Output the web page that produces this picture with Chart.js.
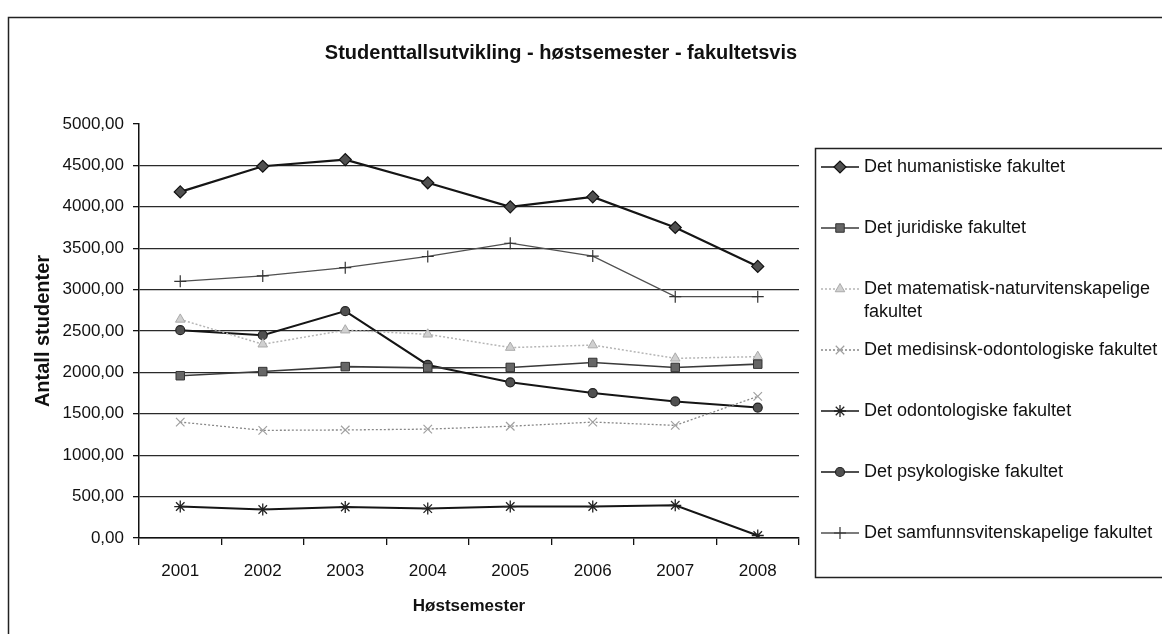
<!DOCTYPE html>
<html><head><meta charset="utf-8">
<script src="https://cdn.jsdelivr.net/npm/chart.js@4.4.0/dist/chart.umd.min.js"></script>
<style>html,body{margin:0;padding:0;background:#fff;}canvas{display:block;}</style>
</head><body>
<canvas id="c" width="1162" height="634"></canvas>
<script>
const years = ['2001', '2002', '2003', '2004', '2005', '2006', '2007', '2008'];
const humanistiske = [4180, 4490, 4570, 4290, 4000, 4120, 3750, 3280];
const juridiske = [1960, 2010, 2070, 2055, 2060, 2120, 2060, 2100];
const matnat = [2640, 2340, 2510, 2460, 2300, 2330, 2170, 2190];
const medisinsk = [1400, 1300, 1305, 1315, 1350, 1400, 1360, 1710];
const odontologiske = [380, 345, 375, 355, 380, 380, 395, 30];
const psykologiske = [2510, 2450, 2740, 2090, 1880, 1750, 1650, 1575];
const samfunn = [3100, 3165, 3265, 3400, 3560, 3405, 2915, 2915];
const seriesNames = [
  'Det humanistiske fakultet',
  'Det juridiske fakultet',
  'Det matematisk-naturvitenskapelige fakultet',
  'Det medisinsk-odontologiske fakultet',
  'Det odontologiske fakultet',
  'Det psykologiske fakultet',
  'Det samfunnsvitenskapelige fakultet'
];
const yMin = 0, yMax = 5000, yStep = 500;
const chartTitle = 'Studenttallsutvikling - høstsemester - fakultetsvis';
const xTitle = 'Høstsemester';
const yTitle = 'Antall studenter';

const FONT = "'Liberation Sans', Arial, sans-serif";

const datasets = [
  {label: seriesNames[0], data: humanistiske, borderColor: '#151515', borderWidth: 2.2,
   pointStyle: 'rectRot', pointRadius: 6, pointBackgroundColor: '#505050', pointBorderColor: '#111', pointBorderWidth: 1.2},
  {label: seriesNames[1], data: juridiske, borderColor: '#3a3a3a', borderWidth: 1.6,
   pointStyle: 'rect', pointRadius: 6, pointBackgroundColor: '#666', pointBorderColor: '#333', pointBorderWidth: 1},
  {label: seriesNames[2], data: matnat, borderColor: '#b5b5b5', borderWidth: 1.5, borderDash: [2, 2],
   pointStyle: 'triangle', pointRadius: 5.5, pointBackgroundColor: '#d0d0d0', pointBorderColor: '#aaa', pointBorderWidth: 1},
  {label: seriesNames[3], data: medisinsk, borderColor: '#888', borderWidth: 1.3, borderDash: [2, 2],
   pointStyle: 'crossRot', pointRadius: 6, pointBackgroundColor: '#aaa', pointBorderColor: '#a0a0a0', pointBorderWidth: 1.2},
  {label: seriesNames[4], data: odontologiske, borderColor: '#151515', borderWidth: 2,
   pointStyle: 'star', pointRadius: 6, pointBackgroundColor: '#222', pointBorderColor: '#222', pointBorderWidth: 1.3},
  {label: seriesNames[5], data: psykologiske, borderColor: '#151515', borderWidth: 2,
   pointStyle: 'circle', pointRadius: 4.5, pointBackgroundColor: '#505050', pointBorderColor: '#222', pointBorderWidth: 1.2},
  {label: seriesNames[6], data: samfunn, borderColor: '#505050', borderWidth: 1.3,
   pointStyle: 'cross', pointRadius: 6, pointBackgroundColor: '#333', pointBorderColor: '#333', pointBorderWidth: 1.2}
];
datasets.forEach(d => { d.fill = false; d.tension = 0; d.pointHoverRadius = d.pointRadius; });

const framePlugin = {
  id: 'frame',
  beforeDraw(chart) {
    const ctx = chart.ctx;
    ctx.save();
    ctx.fillStyle = '#fff';
    ctx.fillRect(0, 0, chart.width, chart.height);
    ctx.strokeStyle = '#222';
    ctx.lineWidth = 1.5;
    ctx.strokeRect(8.5, 17.5, 1400, 1000);
    ctx.restore();
  }
};

function drawMarker(ctx, ds, x, y) {
  const opts = {pointStyle: ds.pointStyle, radius: ds.pointRadius, rotation: 0, borderWidth: ds.pointBorderWidth};
  ctx.fillStyle = ds.pointBackgroundColor;
  ctx.strokeStyle = ds.pointBorderColor;
  ctx.lineWidth = ds.pointBorderWidth;
  ctx.setLineDash([]);
  Chart.helpers.drawPoint(ctx, opts, x, y);
}

const legendPlugin = {
  id: 'excelLegend',
  afterDraw(chart) {
    const ctx = chart.ctx;
    ctx.save();
    ctx.strokeStyle = '#222';
    ctx.lineWidth = 1.5;
    ctx.strokeRect(815.5, 148.5, 400, 429);
    ctx.font = '18px ' + FONT;
    ctx.textBaseline = 'middle';
    ctx.textAlign = 'left';
    chart.data.datasets.forEach((ds, i) => {
      const y = 167 + i * 61;
      ctx.strokeStyle = ds.borderColor;
      ctx.lineWidth = Math.min(ds.borderWidth, 1.6);
      ctx.setLineDash(ds.borderDash || []);
      ctx.beginPath();
      ctx.moveTo(821, y);
      ctx.lineTo(859, y);
      ctx.stroke();
      drawMarker(ctx, ds, 840, y);
      const words = ds.label.split(' ');
      const lines = [];
      let cur = '';
      words.forEach(w => {
        const t = cur ? cur + ' ' + w : w;
        if (ctx.measureText(t).width > 300 && cur) { lines.push(cur); cur = w; } else { cur = t; }
      });
      lines.push(cur);
      ctx.fillStyle = '#111';
      lines.forEach((l, k) => ctx.fillText(l, 864, y + k * 23));
    });
    ctx.restore();
  }
};

new Chart(document.getElementById('c'), {
  type: 'line',
  data: {labels: years, datasets: datasets},
  options: {
    responsive: false,
    animation: false,
    events: [],
    layout: {padding: {left: 10, right: 50, top: 0, bottom: 0}},
    plugins: {
      legend: {display: false},
      tooltip: {enabled: false},
      title: {
        display: true, text: chartTitle, color: '#111',
        font: {family: FONT, size: 20, weight: 'bold'},
        padding: {top: 41, bottom: 59}
      }
    },
    scales: {
      x: {
        type: 'category', offset: true,
        grid: {display: true, drawOnChartArea: false, drawTicks: true, tickLength: 7, offset: true, color: '#111', tickColor: '#111', lineWidth: 1.3},
        border: {display: true, color: '#111', width: 1.5},
        ticks: {color: '#111', font: {family: FONT, size: 17}, padding: 16, maxRotation: 0},
        title: {display: true, text: xTitle, color: '#111', font: {family: FONT, size: 17, weight: 'bold'}, padding: {top: 0, bottom: 17}},
        afterFit(s) { s.height = 96; }
      },
      y: {
        type: 'linear', min: yMin, max: yMax,
        grid: {
          drawTicks: true, tickLength: 6,
          color: c => (c.tick && c.tick.value === yMax) ? 'rgba(0,0,0,0)' : '#2a2a2a',
          tickColor: '#111', lineWidth: 1.3
        },
        border: {display: true, color: '#111', width: 1.5},
        ticks: {stepSize: yStep, color: '#111', font: {family: FONT, size: 17}, padding: 9,
          callback: v => Number(v).toFixed(2).replace('.', ',')},
        title: {display: true, text: yTitle, color: '#111', font: {family: FONT, size: 20, weight: 'bold'}, padding: {top: 21, bottom: 0}},
        afterFit(s) { s.width = 129; }
      },
      rpad: {
        type: 'linear', position: 'right', display: true,
        grid: {display: false, drawTicks: false},
        border: {display: false},
        ticks: {display: false},
        afterFit(s) { s.width = 313; }
      }
    }
  },
  plugins: [framePlugin, legendPlugin]
});
</script>
</body></html>
